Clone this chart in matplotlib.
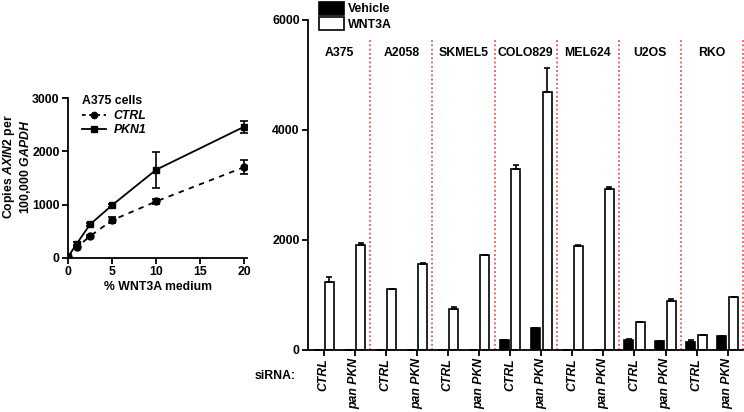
import matplotlib
matplotlib.use("Agg")
import matplotlib.pyplot as plt
import numpy as np
from matplotlib.patches import Patch
from matplotlib.lines import Line2D

plt.rcParams['font.family'] = ['Liberation Sans', 'DejaVu Sans']
plt.rcParams['font.weight'] = 'bold'
plt.rcParams['mathtext.fontset'] = 'custom'
plt.rcParams['mathtext.it'] = 'Liberation Sans:italic:bold'
plt.rcParams['mathtext.rm'] = 'Liberation Sans:bold'
plt.rcParams['axes.linewidth'] = 1.3

FS = 8.8

# ---------- data: left panel ----------
wnt_pct = [0, 1, 2.5, 5, 10, 20]
ctrl_vals = [10, 200, 410, 707, 1061, 1705]
ctrl_err = [10, 20, 20, 60, 45, 125]
pkn1_vals = [20, 270, 630, 990, 1655, 2463]
pkn1_err = [10, 30, 30, 30, 340, 115]

# ---------- data: right panel ----------
cell_lines = ["A375", "A2058", "SKMEL5", "COLO829", "MEL624", "U2OS", "RKO"]
sirna_labels = ["CTRL", "pan PKN"]
vehicle_vals = [0, 0, 0, 0, 0, 0, 182, 400, 0, 0, 182, 170, 152, 255]
vehicle_err = [0, 0, 0, 0, 0, 0, 0, 0, 0, 0, 18, 0, 30, 0]
wnt3a_vals = [1242, 1909, 1103, 1558, 739, 1727, 3285, 4685, 1891, 2921, 503, 885, 267, 970]
wnt3a_err = [90, 40, 10, 20, 35, 0, 80, 450, 20, 40, 10, 35, 8, 0]

fig = plt.figure(figsize=(7.44, 4.12), dpi=100)

# ---------- left panel ----------
ax1 = fig.add_axes([68/744, 1-258/412, (247-68)/744, (258-98)/412])
ax1.errorbar(wnt_pct, ctrl_vals, yerr=ctrl_err, color='black', ls=(0, (3, 3)),
             lw=1.3, marker='o', ms=5, capsize=3, elinewidth=1.2, capthick=1.2)
ax1.errorbar(wnt_pct, pkn1_vals, yerr=pkn1_err, color='black', ls='-',
             lw=1.3, marker='s', ms=5, capsize=3, elinewidth=1.2, capthick=1.2)
ax1.set_xlim(0, 20.3)
ax1.set_ylim(0, 3000)
ax1.set_xticks([0, 5, 10, 15, 20])
ax1.set_yticks([0, 1000, 2000, 3000])
ax1.spines['top'].set_visible(False)
ax1.spines['right'].set_visible(False)
ax1.tick_params(direction='out', length=4, width=1.3, labelsize=FS, pad=2)
ax1.set_xlabel("% WNT3A medium", fontsize=FS, fontweight='bold', labelpad=2)
fig.text(17/744, 1-167/412, "Copies $\\mathit{AXIN2}$ per\n100,000 $\\mathit{GAPDH}$",
         rotation=90, ha='center', va='center', fontsize=FS, fontweight='bold',
         linespacing=1.05, multialignment='center')
handles = [Line2D([], [], color='black', ls=(0, (2, 2)), marker='o', ms=4.5, lw=1.3),
           Line2D([], [], color='black', ls='-', marker='s', ms=4.5, lw=1.3)]
leg1 = ax1.legend(handles, ["CTRL", "PKN1"], title="A375 cells", loc='upper left',
                  bbox_to_anchor=(0.03, 1.07), frameon=False, fontsize=FS,
                  title_fontsize=FS, handlelength=2.0, handletextpad=0.6,
                  labelspacing=0.2, borderpad=0.2)
leg1._legend_box.align = 'left'
leg1.get_title().set_fontweight('bold')
for t in leg1.get_texts():
    t.set_fontstyle('italic')
    t.set_fontweight('bold')

# ---------- right panel ----------
ax2 = fig.add_axes([308/744, 1-350/412, (744-308)/744 - 0.001, 330/412])
n = len(wnt3a_vals)
x = np.arange(n)
bw = 0.29
off = 0.19
ax2.bar(x - off, vehicle_vals, width=bw, color='black', edgecolor='black', lw=1.2,
        yerr=[np.zeros(n), vehicle_err], capsize=2.5,
        error_kw=dict(elinewidth=1.2, capthick=1.2, ecolor='black'))
ax2.bar(x + off, wnt3a_vals, width=bw, color='white', edgecolor='black', lw=1.2,
        yerr=[np.zeros(n), wnt3a_err], capsize=2.5,
        error_kw=dict(elinewidth=1.2, capthick=1.2, ecolor='black'))
ax2.set_xlim(-0.5, n - 0.5)
ax2.set_ylim(0, 6000)
ax2.set_yticks([0, 2000, 4000, 6000])
ax2.set_xticks(x)
ax2.set_xticklabels(sirna_labels * len(cell_lines), rotation=90, fontstyle='italic',
                    fontweight='bold')
ax2.spines['top'].set_visible(False)
ax2.spines['right'].set_visible(False)
ax2.tick_params(direction='out', length=4, width=1.3, labelsize=FS, pad=2)
for g in range(len(cell_lines)):
    xd = 2 * g + 1.5
    ax2.plot([xd, xd], [0, 5650], color='#e03a3a', ls=(0, (1.2, 1.6)), lw=1.1,
             clip_on=False)
    ax2.text(2 * g + 0.5, 5400, cell_lines[g], ha='center', va='center',
             fontsize=FS, fontweight='bold')
fig.text(296/744, 1-376/412, "siRNA:", ha='right', va='center', fontsize=FS,
         fontweight='bold')
leg2 = ax2.legend([Patch(facecolor='black', edgecolor='black', lw=1.2),
                   Patch(facecolor='white', edgecolor='black', lw=1.2)],
                  ["Vehicle", "WNT3A"], loc='upper left', bbox_to_anchor=(0.01, 1.075),
                  frameon=False, fontsize=FS, handlelength=2.0, handleheight=1.2,
                  handletextpad=0.4, labelspacing=0.15, borderpad=0.05)
for t in leg2.get_texts():
    t.set_fontweight('bold')

fig.savefig("out.png", dpi=100)
